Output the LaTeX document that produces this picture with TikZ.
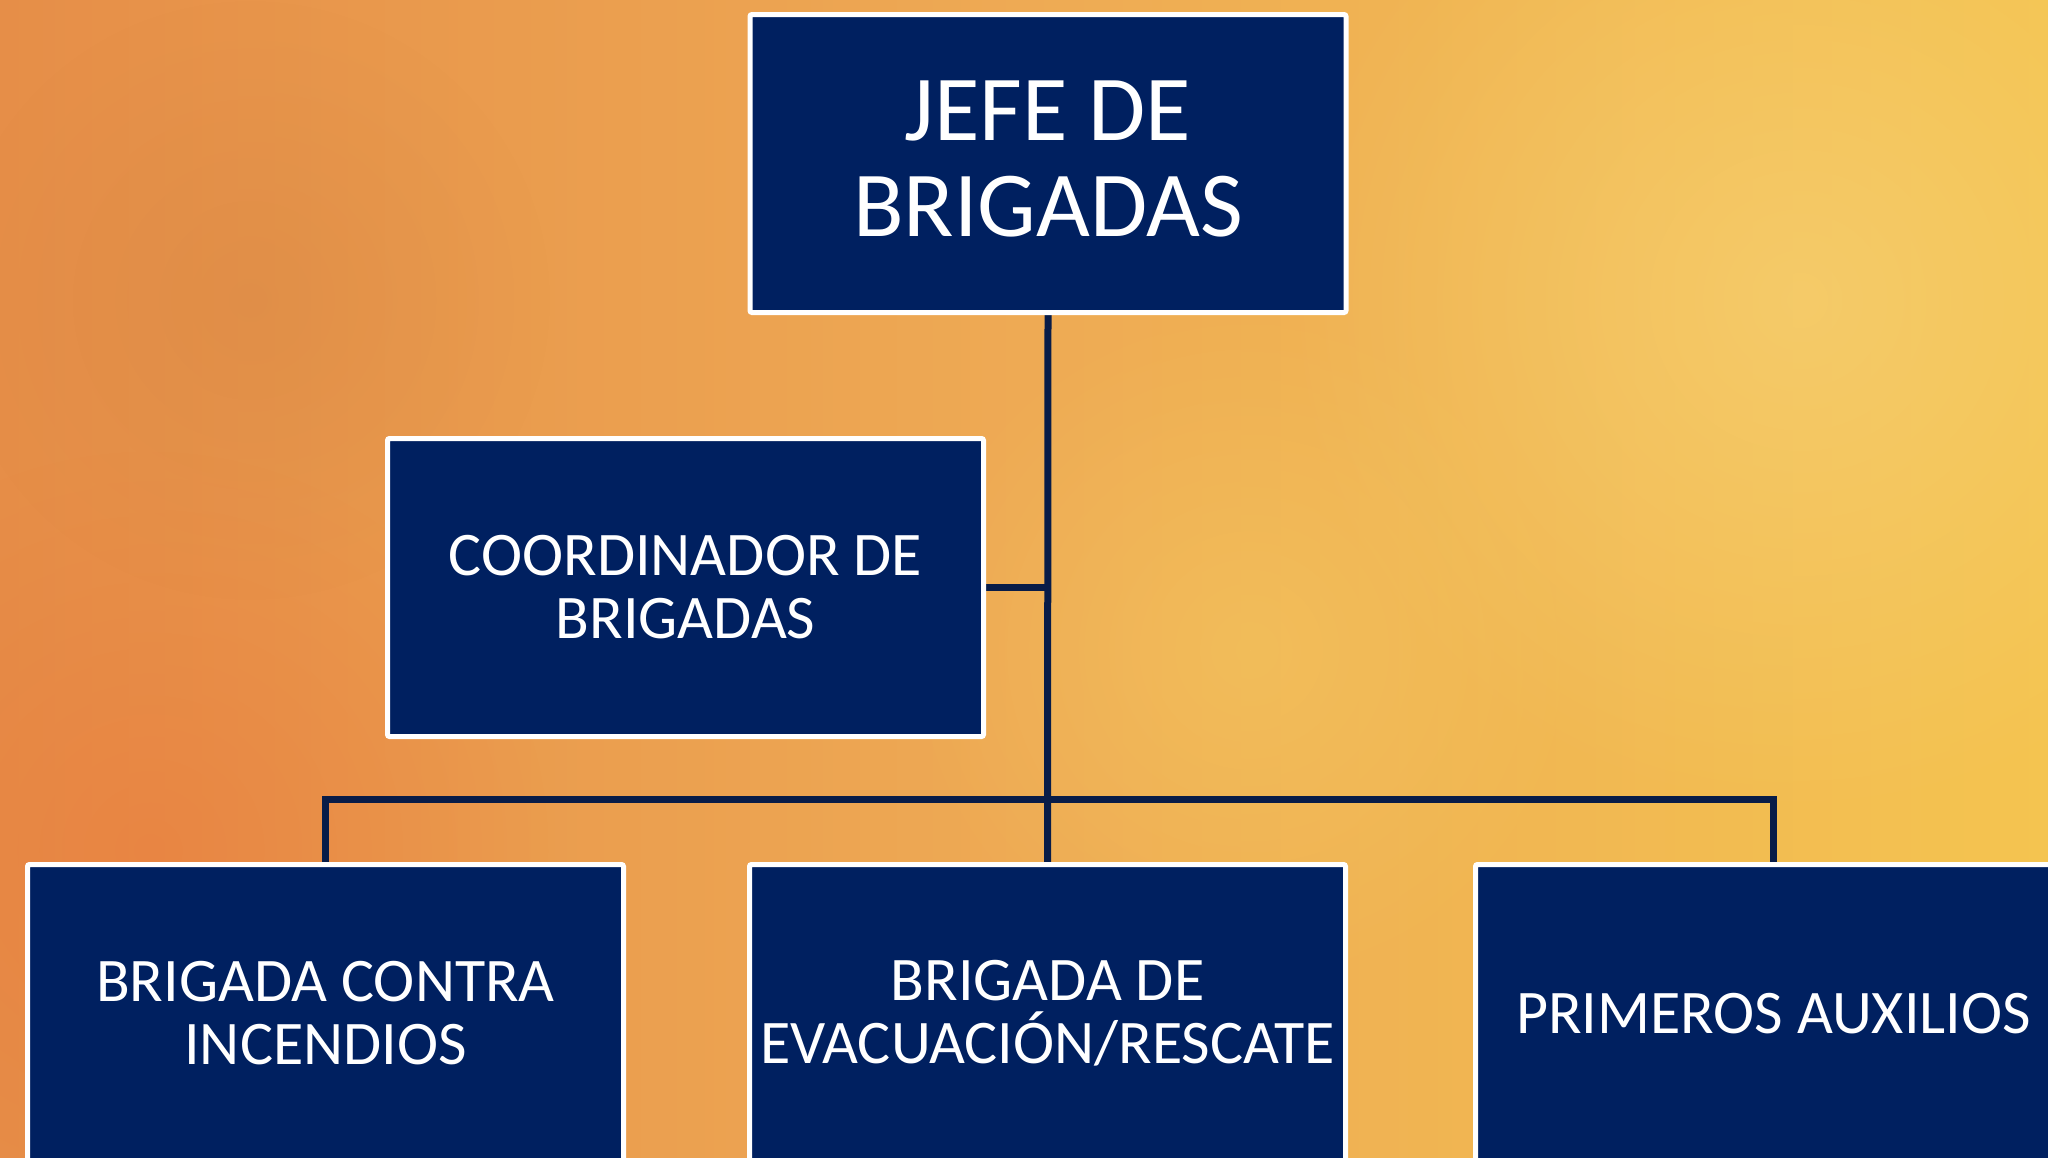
\documentclass[tikz,border=0pt]{standalone}
\usepackage{fontspec}
\setmainfont{Carlito}
\usetikzlibrary{backgrounds,fadings}
\tikzfading[name=glow, inner color=transparent!0, outer color=transparent!100]
\definecolor{boxblue}{RGB}{0,32,96}
\definecolor{linenavy}{RGB}{8,28,72}
\definecolor{bgorange}{RGB}{230,142,72}
\definecolor{bgmid}{RGB}{238,170,84}
\definecolor{bgyellow}{RGB}{244,196,80}
\tikzset{
  orgbox/.style={rectangle, draw=white, line width=5pt, fill=boxblue, rounded corners=2pt,
    minimum width=596pt, minimum height=298pt, text=white, align=center,
    font=\fontsize{62}{63}\selectfont},
  topbox/.style={orgbox, font=\fontsize{93}{96}\selectfont},
  link/.style={draw=linenavy, line width=7pt}
}
\begin{document}
\begin{tikzpicture}[x=1pt,y=-1pt]
\useasboundingbox (0,0) rectangle (2048,1157);
\clip (0,0) rectangle (2048,1157);
\node[topbox] (jefe) at (1048,163.5) {};
\node[text=white, align=center, font=\fontsize{93}{96}\selectfont] (jefetext) at (1048,159) {JEFE DE\\BRIGADAS};
\node[orgbox] (coord) at (685.5,587.5) {COORDINADOR DE\\BRIGADAS};
\node[orgbox] (b1) at (325.5,1013.5) {BRIGADA CONTRA\\INCENDIOS};
\node[orgbox] (b2) at (1047.5,1013.5) {BRIGADA DE\\EVACUACIÓN/RESCATE};
\node[orgbox, text depth=0pt] (b3) at (1773.5,1013.5) {PRIMEROS AUXILIOS};
\coordinate (bus) at (1048,799);
\begin{pgfonlayer}{background}
  \shade[left color=bgorange, right color=bgyellow, middle color=bgmid] (0,0) rectangle (2048,1157);
  \fill[bgyellow!80!white, path fading=glow, opacity=0.7] (1800,300) circle (520pt);
  \fill[bgorange!85!red, path fading=glow, opacity=0.5] (150,850) circle (400pt);
  \fill[bgorange!90!black, path fading=glow, opacity=0.3] (250,300) circle (300pt);
  \fill[bgyellow!90!white, path fading=glow, opacity=0.5] (1250,650) circle (350pt);
  \draw[link] (jefe.south) -- (b2.north);
  \draw[link] (coord.east) -- (coord.east -| jefe.south);
  \draw[link] (b1.north) -- (b1.north |- bus) -- (b3.north |- bus) -- (b3.north);
\end{pgfonlayer}
\end{tikzpicture}
\end{document}
